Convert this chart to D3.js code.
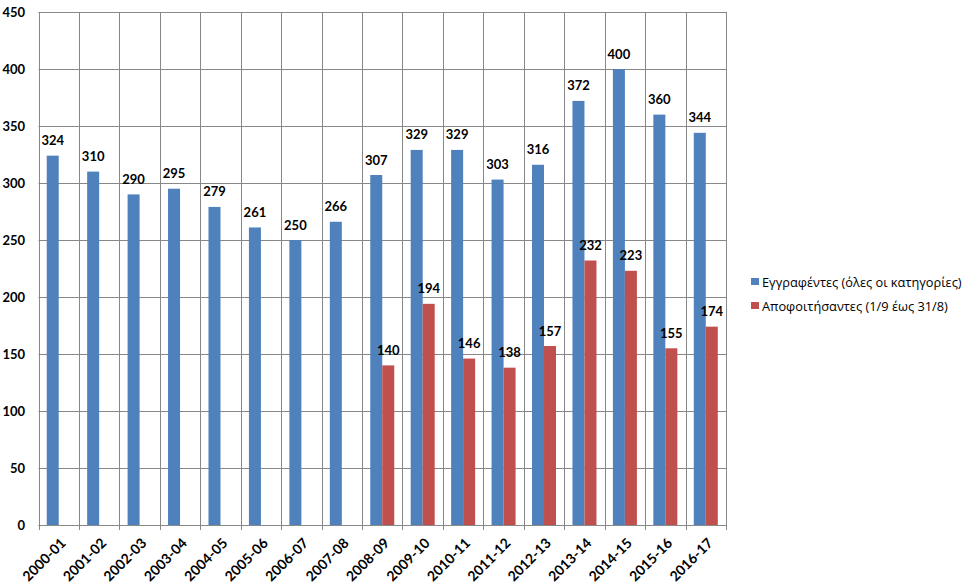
<!DOCTYPE html>
<html><head><meta charset="utf-8">
<script src="https://cdn.jsdelivr.net/npm/d3@7"></script>
<style>body{margin:0;background:#fff}svg{display:block}</style>
</head><body>
<svg id="c" width="969" height="584"></svg>
<script>
const categories = ["2000-01","2001-02","2002-03","2003-04","2004-05","2005-06","2006-07","2007-08","2008-09","2009-10","2010-11","2011-12","2012-13","2013-14","2014-15","2015-16","2016-17"];
const enrolled = [324,310,290,295,279,261,250,266,307,329,329,303,316,372,400,360,344];
const graduated = [null,null,null,null,null,null,null,null,140,194,146,138,157,232,223,155,174];
const seriesNames = ["Εγγραφέντες (όλες οι κατηγορίες)","Αποφοιτήσαντες (1/9 έως 31/8)"];
const colors = ["#4F81BD","#C0504D"];
const yTicks = [0,50,100,150,200,250,300,350,400,450];

const svg = d3.select("#c");
const L = 38.5, R = 726, T = 12, B = 525;
const font = "Lato, 'Open Sans', sans-serif";
const grid = "#888888";

const x = d3.scaleBand().domain(categories).range([L, R]).paddingInner(0).paddingOuter(0);
const y = d3.scaleLinear().domain([0, 450]).range([B, T]);

// gridlines horizontal
svg.append("g").selectAll("line").data(yTicks).join("line")
  .attr("x1", L).attr("x2", R).attr("y1", d => Math.round(y(d)) + 0.5).attr("y2", d => Math.round(y(d)) + 0.5)
  .attr("stroke", grid).attr("stroke-width", 1);
// vertical gridlines at category boundaries
const bounds = categories.map(c => x(c)).concat([R]);
svg.append("g").selectAll("line").data(bounds).join("line")
  .attr("x1", d => Math.round(d) + 0.5).attr("x2", d => Math.round(d) + 0.5)
  .attr("y1", T).attr("y2", B + 5)
  .attr("stroke", grid).attr("stroke-width", 1);

// bars
const bw = 12, off = (x.bandwidth() - 2 * bw) / 2;
const series = [enrolled, graduated];
series.forEach((vals, si) => {
  const data = categories.map((c, i) => ({c, v: vals[i]})).filter(d => d.v != null);
  svg.append("g").selectAll("rect").data(data).join("rect")
    .attr("x", d => x(d.c) + off + si * bw)
    .attr("width", bw)
    .attr("y", d => y(d.v))
    .attr("height", d => B - y(d.v))
    .attr("fill", colors[si]);
  svg.append("g").selectAll("text").data(data).join("text")
    .attr("x", d => x(d.c) + off + si * bw + bw / 2)
    .attr("y", d => y(d.v) - 10.5)
    .attr("text-anchor", "middle")
    .attr("font-family", font).attr("font-weight", "bold").attr("font-size", 13)
    .attr("fill", "#000")
    .text(d => d.v);
});

// axis lines
svg.append("line").attr("x1", L).attr("x2", R).attr("y1", B + 0.5).attr("y2", B + 0.5).attr("stroke", grid);
svg.append("line").attr("x1", Math.round(L) + 0.5).attr("x2", Math.round(L) + 0.5).attr("y1", T).attr("y2", B).attr("stroke", grid);

// y tick labels
svg.append("g").selectAll("text").data(yTicks).join("text")
  .attr("x", 25).attr("y", d => y(d) + 4.5)
  .attr("text-anchor", "end")
  .attr("font-family", font).attr("font-weight", "bold").attr("font-size", 13)
  .text(d => d);

// x labels
svg.append("g").selectAll("text").data(categories).join("text")
  .attr("transform", d => `translate(${x(d) + x.bandwidth() / 2 + 8},${B + 19}) rotate(-45)`)
  .attr("text-anchor", "end")
  .attr("font-family", font).attr("font-weight", "bold").attr("font-size", 14)
  .text(d => d);

// legend
const lg = svg.append("g").selectAll("g").data(seriesNames).join("g")
  .attr("transform", (d, i) => `translate(751,${278 + i * 24})`);
lg.append("rect").attr("width", 8).attr("height", 7).attr("fill", (d, i) => colors[i]);
const lt = lg.append("text").attr("x", 11).attr("y", 8.5)
  .attr("font-family", "'Open Sans', 'Noto Sans', sans-serif").attr("font-size", 12)
  .attr("fill", "#000")
  .text(d => d);
// fit first legend entry to ~200px like the reference
const w0 = lt.nodes()[0].getComputedTextLength();
const fs = Math.min(14, 12 * 200 / w0);
lt.attr("font-size", fs);
</script>
</body></html>
